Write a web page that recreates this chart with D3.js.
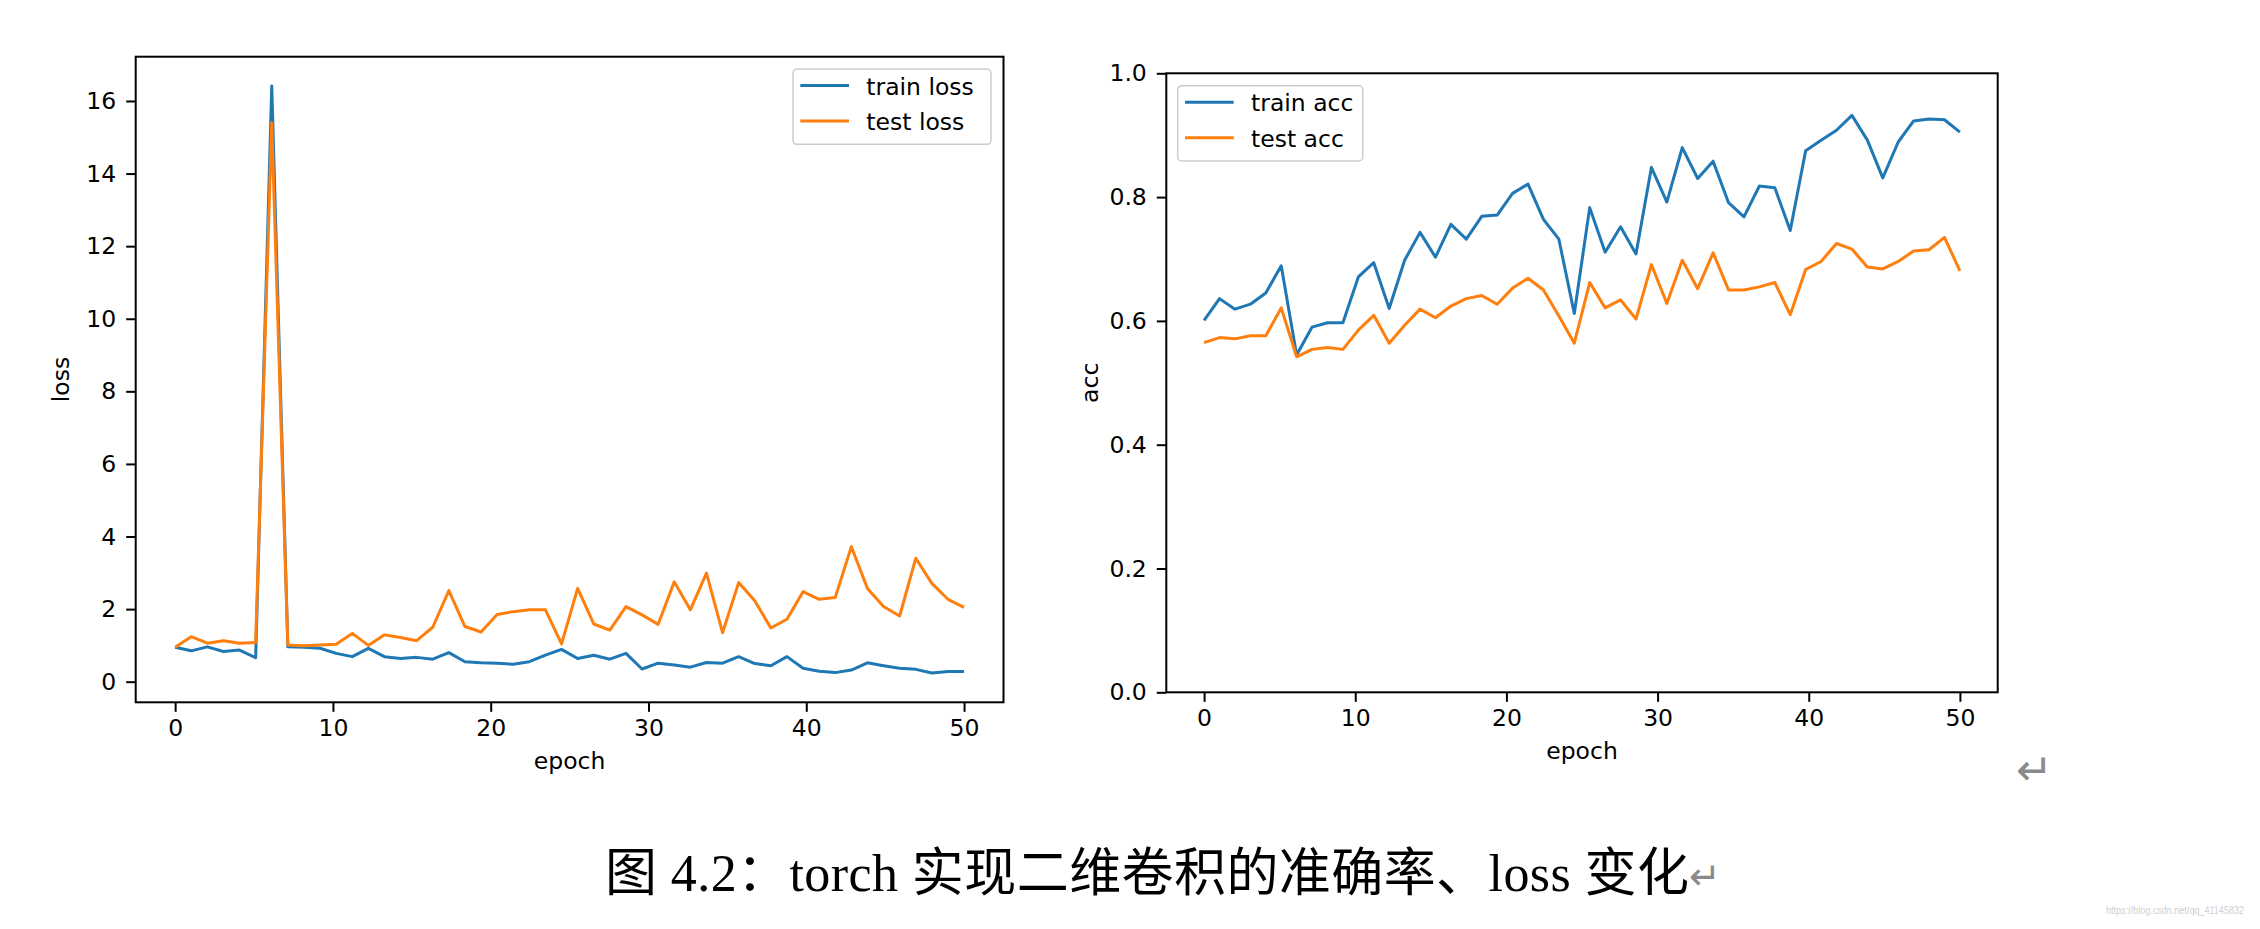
<!DOCTYPE html>
<html>
<head>
<meta charset="utf-8">
<style>
    body { margin: 0; background: #fff; }
    svg { display: block; }
    .tick text { font-family: "DejaVu Sans", sans-serif; font-size: 23.5px; fill: #000; }
    .tick line { stroke: #000; stroke-width: 2; }
</style>
</head>
<body></body>
<script src="https://d3js.org/d3.v7.min.js"></script>
<script>
    // values, 50 samples from epoch 0 to 50
    var trainLoss = [0.95, 0.85, 0.96, 0.83, 0.87, 0.66, 16.41, 0.96, 0.95, 0.92,
        0.78, 0.69, 0.92, 0.69, 0.64, 0.67, 0.62, 0.80, 0.55, 0.52,
        0.51, 0.48, 0.55, 0.73, 0.89, 0.64, 0.73, 0.62, 0.78, 0.35,
        0.51, 0.46, 0.40, 0.53, 0.51, 0.69, 0.50, 0.44, 0.69, 0.37,
        0.29, 0.25, 0.32, 0.52, 0.44, 0.37, 0.34, 0.24, 0.28, 0.28];
    var testLoss = [0.95, 1.24, 1.06, 1.13, 1.06, 1.08, 15.4, 1.01, 0.99, 1.01,
        1.03, 1.33, 1.0, 1.29, 1.22, 1.13, 1.50, 2.51, 1.52, 1.37,
        1.85, 1.93, 1.98, 1.98, 1.04, 2.57, 1.59, 1.42, 2.07, 1.84,
        1.58, 2.75, 1.98, 2.99, 1.35, 2.73, 2.23, 1.48, 1.72, 2.48,
        2.27, 2.32, 3.72, 2.57, 2.07, 1.81, 3.40, 2.71, 2.27, 2.05];
    var trainAcc = [0.601, 0.636, 0.619, 0.627, 0.645, 0.689, 0.545, 0.590, 0.597, 0.597,
        0.671, 0.694, 0.620, 0.698, 0.743, 0.703, 0.756, 0.732, 0.769, 0.771,
        0.806, 0.821, 0.764, 0.732, 0.612, 0.783, 0.711, 0.752, 0.708, 0.848,
        0.792, 0.880, 0.830, 0.858, 0.791, 0.768, 0.818, 0.815, 0.746, 0.875,
        0.892, 0.908, 0.932, 0.892, 0.831, 0.889, 0.923, 0.926, 0.925, 0.905];
    var testAcc = [0.565, 0.573, 0.571, 0.576, 0.576, 0.621, 0.542, 0.554, 0.557, 0.554,
        0.585, 0.609, 0.564, 0.593, 0.619, 0.605, 0.624, 0.636, 0.641, 0.627,
        0.653, 0.669, 0.650, 0.608, 0.564, 0.662, 0.621, 0.634, 0.603, 0.691,
        0.628, 0.698, 0.652, 0.710, 0.650, 0.650, 0.655, 0.662, 0.610, 0.683,
        0.696, 0.725, 0.716, 0.687, 0.684, 0.696, 0.713, 0.715, 0.735, 0.681];

    var epochTicks = [0, 10, 20, 30, 40, 50];
    var lossTicks = [0, 2, 4, 6, 8, 10, 12, 14, 16];
    var accTicks = [0, 0.2, 0.4, 0.6, 0.8, 1.0];

    var blue = "#1f77b4", orange = "#ff7f0e";
    var font = "DejaVu Sans, sans-serif";

    const svg = d3.select("body")
        .append("svg")
        .attr("width", 2260)
        .attr("height", 929);

    function panel(p) {
        var x = d3.scaleLinear().domain([-2.5, 52.5]).range([p.left, p.right]);
        var y = d3.scaleLinear().domain(p.yDomain).range([p.bottom, p.top]);
        var n = p.series[0].values.length;
        var g = svg.append("g");

        // series
        var line = d3.line()
            .x(function (d, i) { return x(i * 50 / (n - 1)); })
            .y(function (d) { return y(d); });
        p.series.forEach(function (s) {
            g.append("path")
                .datum(s.values)
                .attr("d", line)
                .attr("fill", "none")
                .attr("stroke", s.color)
                .attr("stroke-width", 3)
                .attr("stroke-linejoin", "round");
        });

        // axes
        g.append("g")
            .attr("transform", "translate(0," + p.bottom + ")")
            .call(d3.axisBottom(x).tickValues(epochTicks).tickSize(9.5).tickPadding(8))
            .call(function (a) { a.select(".domain").remove(); });
        g.append("g")
            .attr("transform", "translate(" + p.left + ",0)")
            .call(d3.axisLeft(y).tickValues(p.yTicks).tickFormat(p.yFormat).tickSize(9.5).tickPadding(10))
            .call(function (a) { a.select(".domain").remove(); });

        // frame
        g.append("rect")
            .attr("x", p.left).attr("y", p.top)
            .attr("width", p.right - p.left).attr("height", p.bottom - p.top)
            .attr("fill", "none").attr("stroke", "#000").attr("stroke-width", 2);

        // axis labels
        g.append("text")
            .attr("x", (p.left + p.right) / 2).attr("y", p.bottom + 67)
            .attr("text-anchor", "middle")
            .attr("font-family", font).attr("font-size", 23.5)
            .text("epoch");
        g.append("text")
            .attr("transform", "translate(" + p.yLabelX + "," + (p.top + p.bottom) / 2 + ") rotate(-90)")
            .attr("text-anchor", "middle")
            .attr("font-family", font).attr("font-size", 23.5)
            .text(p.yLabel);

        // legend
        var L = p.legend;
        g.append("rect")
            .attr("x", L.x).attr("y", L.y).attr("width", L.w).attr("height", 75.3)
            .attr("rx", 4)
            .attr("fill", "#fff").attr("fill-opacity", 0.8)
            .attr("stroke", "#cccccc").attr("stroke-width", 1.5);
        p.series.forEach(function (s, i) {
            var ry = L.y + 16.6 + i * 35.4;
            g.append("line")
                .attr("x1", L.x + 7.3).attr("x2", L.x + 56)
                .attr("y1", ry).attr("y2", ry)
                .attr("stroke", s.color).attr("stroke-width", 3);
            g.append("text")
                .attr("x", L.x + 73.3).attr("y", ry + 9)
                .attr("font-family", font).attr("font-size", 23.5)
                .text(s.name);
        });
    }

    panel({
        left: 135.7, right: 1003.5, top: 56.7, bottom: 702.3,
        yDomain: [-0.568, 17.22], yTicks: lossTicks, yFormat: d3.format("d"),
        yLabel: "loss", yLabelX: 68.5,
        legend: { x: 793, y: 69, w: 198 },
        series: [
            { name: "train loss", values: trainLoss, color: blue },
            { name: "test loss", values: testLoss, color: orange }
        ]
    });

    panel({
        left: 1166.3, right: 1997.7, top: 73.3, bottom: 692.3,
        yDomain: [0, 1], yTicks: accTicks, yFormat: d3.format(".1f"),
        yLabel: "acc", yLabelX: 1097.5,
        legend: { x: 1177.7, y: 85.7, w: 185 },
        series: [
            { name: "train acc", values: trainAcc, color: blue },
            { name: "test acc", values: testAcc, color: orange }
        ]
    });

    // caption
    svg.append("text")
        .attr("x", 605).attr("y", 891)
        .attr("font-family", "Liberation Serif, Noto Sans CJK SC, serif")
        .attr("font-size", 52)
        .attr("textLength", 1084).attr("lengthAdjust", "spacing")
        .text("图 4.2：torch 实现二维卷积的准确率、loss 变化");
    svg.append("text")
        .attr("x", 1689).attr("y", 889)
        .attr("font-family", "DejaVu Sans, sans-serif")
        .attr("font-size", 38).attr("fill", "#8a8a8a")
        .text("↵");
    svg.append("text")
        .attr("x", 2016).attr("y", 785)
        .attr("font-family", "DejaVu Sans, sans-serif")
        .attr("font-size", 44).attr("fill", "#8a8a8a")
        .text("↵");

    // watermark
    svg.append("text")
        .attr("x", 2106).attr("y", 914)
        .attr("font-family", "Liberation Sans, sans-serif")
        .attr("font-size", 11).attr("fill", "#cfcfcf")
        .attr("textLength", 138).attr("lengthAdjust", "spacingAndGlyphs")
        .text("https://blog.csdn.net/qq_41145832");
</script>
</html>
